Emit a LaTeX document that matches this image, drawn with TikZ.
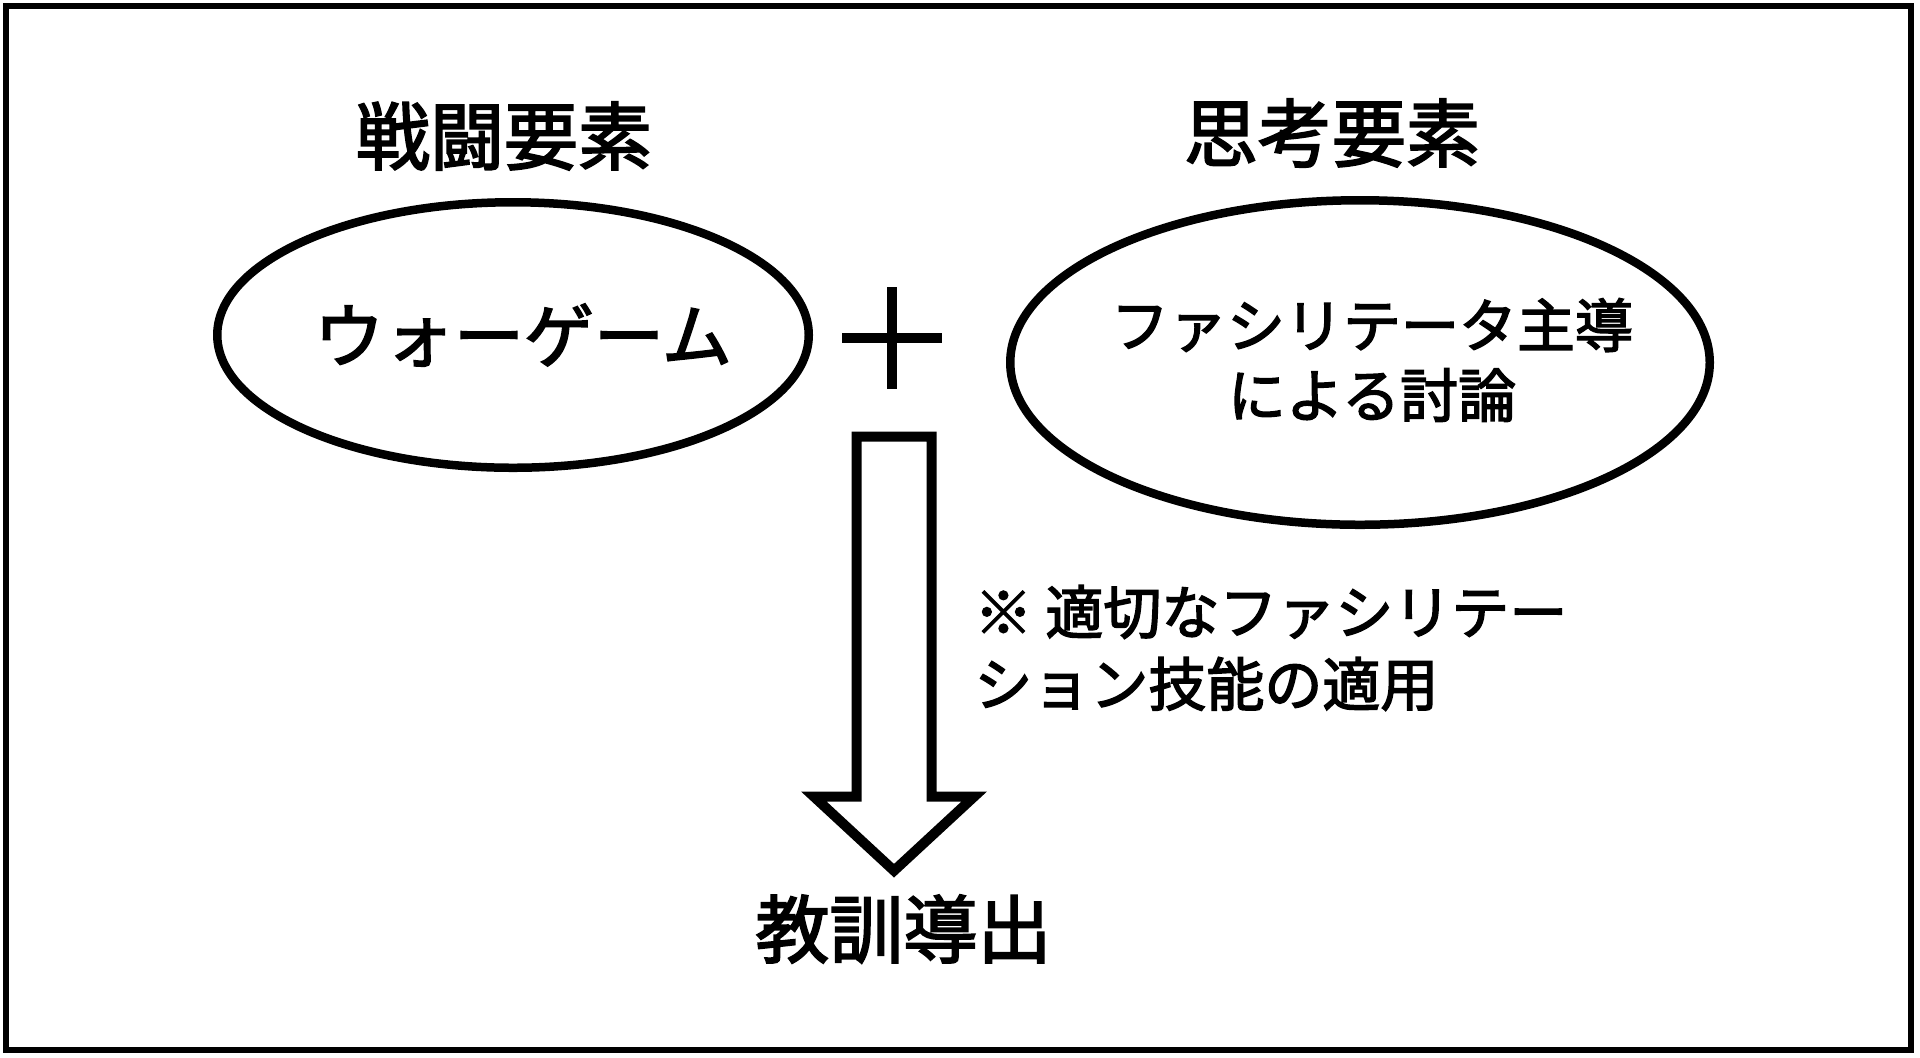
\documentclass[tikz,border=0pt]{standalone}
\usepackage{fontspec}
\setmainfont{Noto Sans CJK JP}[FakeBold=2.5]
\usetikzlibrary{shapes.geometric}
\begin{document}
\begin{tikzpicture}[x=0.5pt,y=-0.5pt,
  title/.style={font=\fontsize{37pt}{44pt}\selectfont, inner sep=0pt},
  oval/.style={ellipse, draw, line width=4.25pt, inner sep=0pt},
  ovaltext/.style={inner sep=0pt, align=center},
  note/.style={font=\fontsize{29pt}{36pt}\selectfont, inner sep=0pt, align=left},
  blockarrow/.style={draw, line width=5pt, fill=white, line join=miter}]
\useasboundingbox (0,0) rectangle (1920,1057);
\draw[line width=2.75pt] (6,6) rectangle (1911,1050);
% titles
\node[title] (t1) at (504,136) {戦闘要素};
\node[title] (t2) at (1332,133) {思考要素};
% ellipses
\node[oval, minimum width=295.75pt, minimum height=132.75pt] (wg) at (513,335) {};
\node[ovaltext, font=\fontsize{35pt}{42pt}\selectfont] (wgt) at (523,335) {ウォーゲーム};
\node[oval, minimum width=349.75pt, minimum height=162.25pt] (fd) at (1360,362.5) {};
\node[ovaltext, font=\fontsize{29pt}{35pt}\selectfont] (fdt) at (1372,360) {ファシリテータ主導\\による討論};
% plus
\coordinate (plus) at (892,338);
\draw[line width=5pt] ([xshift=-25pt]plus) -- ([xshift=25pt]plus);
\draw[line width=5pt] ([yshift=25.5pt]plus) -- ([yshift=-25.5pt]plus);
% block arrow
\coordinate (atop) at (894,436.7);
\node[title] (res) at (903.5,929) {教訓導出};
\draw[blockarrow] ([xshift=-18.75pt]atop) -- ([xshift=18.75pt]atop)
  -- ++(0,360) -- ++(42.5,0) -- ([yshift=-217pt]atop) -- ++(-80,-74)
  -- ++(42.5,0) -- cycle;
% note
\node[note, anchor=west] (nt) at (974,648) {※ 適切なファシリテー\\ション技能の適用};
\end{tikzpicture}
\end{document}
